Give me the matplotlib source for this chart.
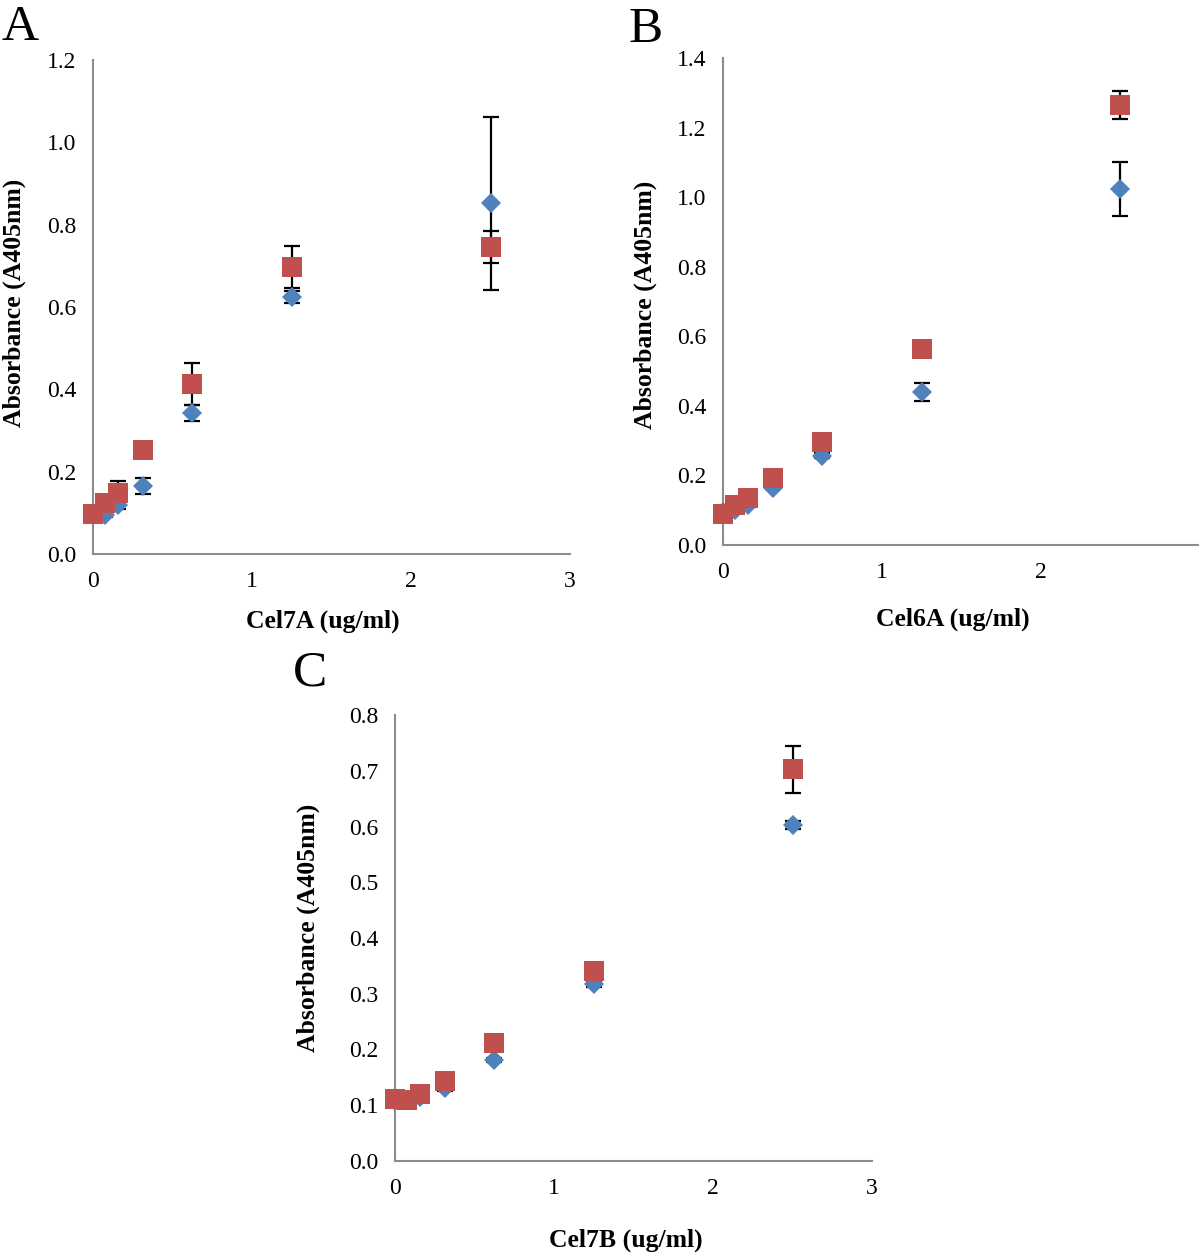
import matplotlib
matplotlib.use("Agg")
import matplotlib.pyplot as plt

plt.rcParams['font.family'] = ['Liberation Serif', 'DejaVu Serif']

# concentraciones (ug/ml)
conc = [0, 0.078, 0.156, 0.3125, 0.625, 1.25, 2.5]

# Panel A - Cel7A
a_blue = [0.095, 0.095, 0.118, 0.165, 0.342, 0.625, 0.852]
a_blue_err = [0.005, 0.005, 0.008, 0.02, 0.02, 0.015, 0.21]
a_red = [0.097, 0.124, 0.148, 0.253, 0.413, 0.697, 0.746]
a_red_err = [0.005, 0.005, 0.03, 0.005, 0.05, 0.05, 0.038]

# Panel B - Cel6A
b_blue = [0.095, 0.1, 0.115, 0.165, 0.257, 0.44, 1.023]
b_blue_err = [0.005, 0.005, 0.005, 0.005, 0.008, 0.025, 0.077]
b_red = [0.09, 0.115, 0.135, 0.193, 0.296, 0.563, 1.265]
b_red_err = [0.005, 0.005, 0.005, 0.005, 0.005, 0.005, 0.04]

# Panel C - Cel7B
c_blue = [0.108, 0.11, 0.115, 0.131, 0.181, 0.317, 0.603]
c_blue_err = [0.003, 0.003, 0.003, 0.005, 0.003, 0.005, 0.007]
c_red = [0.111, 0.11, 0.12, 0.143, 0.212, 0.341, 0.703]
c_red_err = [0.003, 0.003, 0.003, 0.003, 0.003, 0.003, 0.042]

AZUL = '#4F81BD'
ROJO = '#C0504D'
GRIS = '#8C8C8C'

fig = plt.figure(figsize=(12, 12.54), dpi=100)

paneles = [
    # (rect, blue, blue_err, red, red_err, ylim, yticks, xlim, xticks, xlabel,
    #  ylabel_coords, xlabel_coords, letra, letra_pos)
    ([0.0775, 0.5582, 0.3975, 0.394], a_blue, a_blue_err, a_red, a_red_err,
     1.2, [0, 0.2, 0.4, 0.6, 0.8, 1.0, 1.2], 3, [0, 1, 2, 3], 'Cel7A (ug/ml)',
     (-0.166, 0.508), (0.482, -0.136), 'A', (0.017, 0.978)),
    ([0.6025, 0.5654, 0.3958, 0.3883], b_blue, b_blue_err, b_red, b_red_err,
     1.4, [0, 0.2, 0.4, 0.6, 0.8, 1.0, 1.2, 1.4], 2.99, [0, 1, 2], 'Cel6A (ug/ml)',
     (-0.164, 0.493), (0.484, -0.152), 'B', (0.538, 0.976)),
    ([0.3292, 0.0742, 0.3975, 0.3556], c_blue, c_blue_err, c_red, c_red_err,
     0.8, [0, 0.1, 0.2, 0.3, 0.4, 0.5, 0.6, 0.7, 0.8], 3, [0, 1, 2, 3], 'Cel7B (ug/ml)',
     (-0.182, 0.522), (0.484, -0.177), 'C', (0.258, 0.463)),
]

for (rect, azul, azul_err, rojo, rojo_err, ymax, yticks, xmax, xticks, xlab,
     ylc, xlc, letra, lpos) in paneles:
    ax = fig.add_axes(rect)
    # barras de error debajo de los marcadores
    ax.errorbar(conc, azul, yerr=azul_err, fmt='none', ecolor='black',
                elinewidth=1.6, capsize=6, capthick=1.6, zorder=2, clip_on=False)
    ax.errorbar(conc, rojo, yerr=rojo_err, fmt='none', ecolor='black',
                elinewidth=1.6, capsize=6, capthick=1.6, zorder=2, clip_on=False)
    ax.plot(conc, azul, 'D', color=AZUL, markersize=10.5, markeredgewidth=0,
            zorder=3, clip_on=False)
    ax.plot(conc, rojo, 's', color=ROJO, markersize=14.5, markeredgewidth=0,
            zorder=4, clip_on=False)

    ax.set_xlim(0, xmax)
    ax.set_ylim(0, ymax)
    ax.set_xticks(xticks)
    ax.set_xticklabels([str(t) for t in xticks])
    ax.set_yticks(yticks)
    ax.set_yticklabels([f'{t:.1f}' for t in yticks])
    ax.tick_params(length=0, labelsize=17, pad=12)

    for lado in ['top', 'right']:
        ax.spines[lado].set_visible(False)
    for lado in ['left', 'bottom']:
        ax.spines[lado].set_color(GRIS)
        ax.spines[lado].set_linewidth(1.5)

    ax.set_xlabel(xlab, fontsize=18.5, fontweight='bold', va='center')
    ax.set_ylabel('Absorbance (A405nm)', fontsize=18.5, fontweight='bold', va='center')
    ax.xaxis.set_label_coords(*xlc)
    ax.yaxis.set_label_coords(*ylc)

    fig.text(lpos[0], lpos[1], letra, fontsize=37, ha='center', va='center')

plt.savefig('out.png', dpi=100)
plt.close()
